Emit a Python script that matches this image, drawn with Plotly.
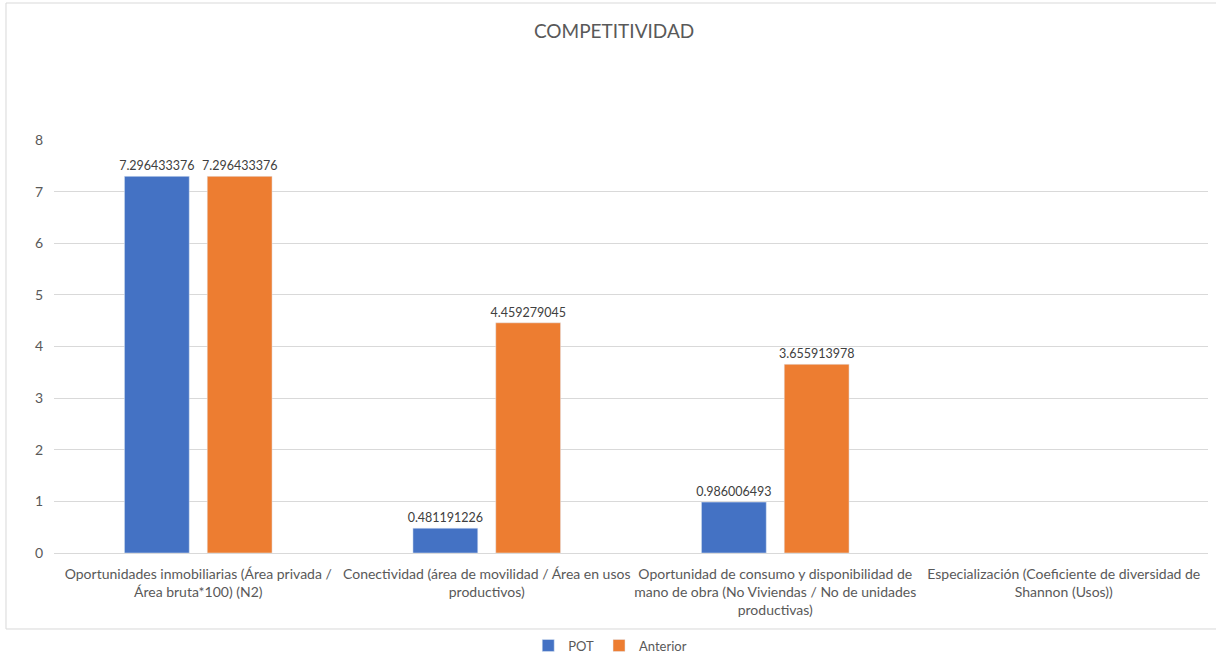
import plotly.graph_objects as go

categories = [
    "Oportunidades inmobiliarias (Área privada /<br>Área bruta*100) (N2)",
    "Conectividad (área de movilidad / Área en usos<br>productivos)",
    "Oportunidad de consumo y disponibilidad de<br>mano de obra (No Viviendas / No de unidades<br>productivas)",
    "Especialización (Coeficiente de diversidad de<br>Shannon (Usos))",
]
pot = [7.296433376, 0.481191226, 0.986006493, None]
anterior = [7.296433376, 4.459279045, 3.655913978, None]
pot_labels = ["7.296433376", "0.481191226", "0.986006493", ""]
anterior_labels = ["7.296433376", "4.459279045", "3.655913978", ""]
y_ticks = [0, 1, 2, 3, 4, 5, 6, 7, 8]

FONT = "Lato"
TXT = "#595959"

fig = go.Figure()
fig.add_trace(go.Bar(name="POT", x=categories, y=pot, marker_color="#4472C4",
                     text=pot_labels, textposition="outside", cliponaxis=False,
                     constraintext="none",
                     textfont=dict(size=12.5, color="#404040", family=FONT)))
fig.add_trace(go.Bar(name="Anterior", x=categories, y=anterior, marker_color="#ED7D31",
                     text=anterior_labels, textposition="outside", cliponaxis=False,
                     constraintext="none",
                     textfont=dict(size=12.5, color="#404040", family=FONT)))

fig.update_layout(
    width=1216, height=656,
    margin=dict(l=54, r=8, t=140, b=103, autoexpand=False),
    paper_bgcolor="white", plot_bgcolor="white",
    barmode="group", bargap=0.426, bargroupgap=0.217,
    font=dict(family=FONT, size=14, color=TXT),
    title=dict(text="COMPETITIVIDAD", x=0.505, xanchor="center", y=0.952, yanchor="middle",
               font=dict(size=19, color=TXT, family=FONT)),
    legend=dict(orientation="h", x=0.482, xanchor="center", y=-0.224, yanchor="middle",
                font=dict(size=13, color=TXT, family=FONT), itemwidth=30,
                traceorder="normal"),
    xaxis=dict(showgrid=False, showline=True, linecolor="#D9D9D9", ticks="",
               ticklabelstandoff=8,
               tickfont=dict(size=14, color=TXT, family=FONT), automargin=False),
    yaxis=dict(range=[0, 8], tickvals=y_ticks, showgrid=True, gridcolor="#D9D9D9",
               zeroline=False, showline=False, ticks="", ticklabelstandoff=10,
               tickfont=dict(size=14, color=TXT, family=FONT), automargin=False),
    shapes=[dict(type="rect", xref="paper", yref="paper",
                 x0=-0.0416, x1=1.01, y0=-0.1840, y1=1.3317,
                 line=dict(color="#D9D9D9", width=1), fillcolor="rgba(0,0,0,0)",
                 layer="below")],
)

fig.write_html("out.html", config={"displayModeBar": False},
               post_script="document.body.style.margin='0';document.body.style.overflow='hidden';")
